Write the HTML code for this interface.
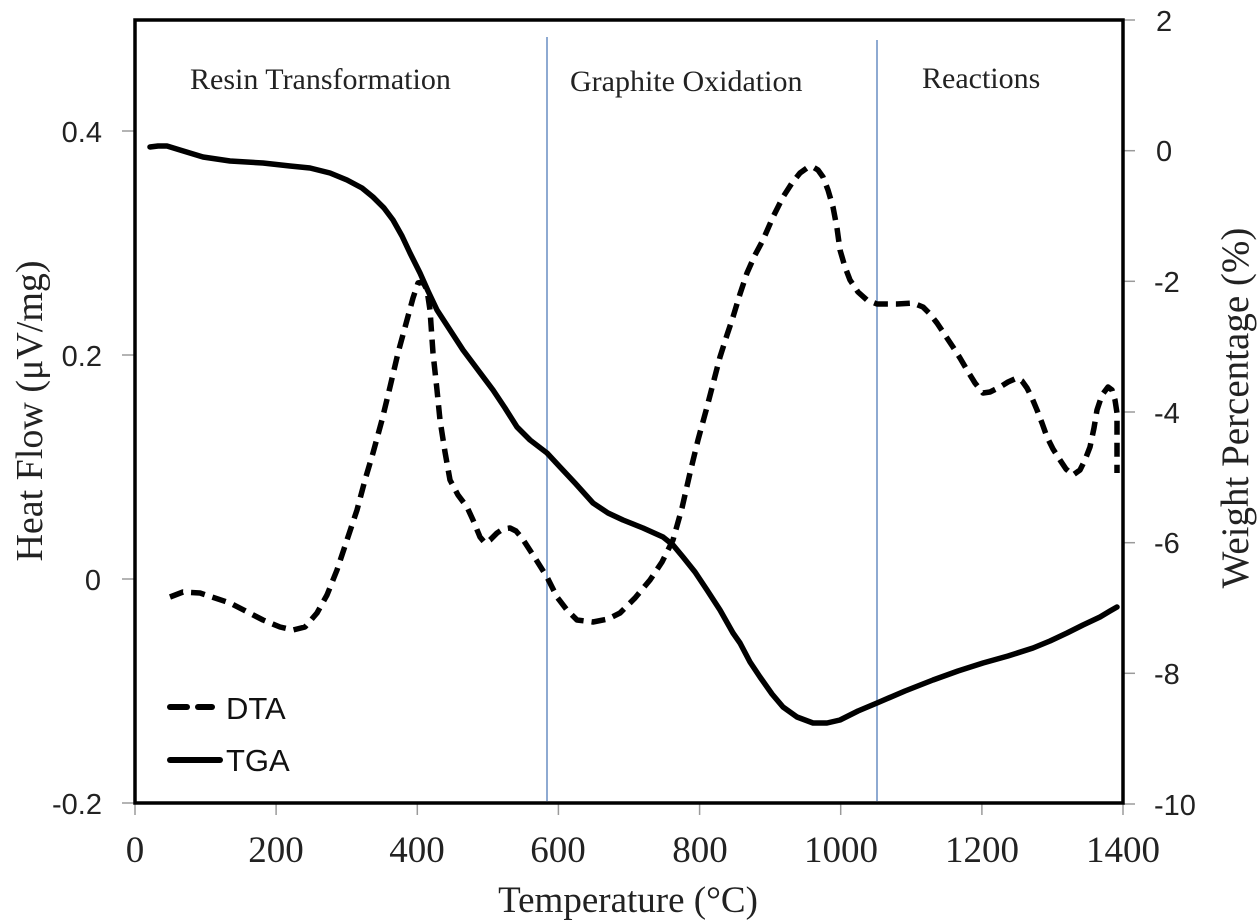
<!DOCTYPE html>
<html>
<head>
<meta charset="utf-8">
<style>
  html,body{margin:0;padding:0;background:#fff;}
  svg{display:block;}
</style>
</head>
<body>
<svg width="1260" height="923" viewBox="0 0 1260 923" xmlns="http://www.w3.org/2000/svg">
  <rect x="0" y="0" width="1260" height="923" fill="#ffffff"/>

  <!-- region separators -->
  <line x1="547" y1="37" x2="547" y2="801" stroke="#8eaad2" stroke-width="2"/>
  <line x1="877" y1="40" x2="877" y2="801" stroke="#8eaad2" stroke-width="2"/>

  <!-- ticks left -->
  <g stroke="#9a9a9a" stroke-width="1.5">
    <line x1="122" y1="131" x2="135" y2="131"/>
    <line x1="122" y1="355" x2="135" y2="355"/>
    <line x1="122" y1="579" x2="135" y2="579"/>
    <line x1="122" y1="803" x2="135" y2="803"/>
    <!-- right ticks -->
    <line x1="1123" y1="20" x2="1135" y2="20"/>
    <line x1="1123" y1="150.7" x2="1135" y2="150.7"/>
    <line x1="1123" y1="281.3" x2="1135" y2="281.3"/>
    <line x1="1123" y1="412" x2="1135" y2="412"/>
    <line x1="1123" y1="542.7" x2="1135" y2="542.7"/>
    <line x1="1123" y1="673.3" x2="1135" y2="673.3"/>
    <line x1="1123" y1="804" x2="1135" y2="804"/>
    <!-- bottom ticks -->
    <line x1="135" y1="803" x2="135" y2="815"/>
    <line x1="276.1" y1="803" x2="276.1" y2="815"/>
    <line x1="417.3" y1="803" x2="417.3" y2="815"/>
    <line x1="558.4" y1="803" x2="558.4" y2="815"/>
    <line x1="699.6" y1="803" x2="699.6" y2="815"/>
    <line x1="840.7" y1="803" x2="840.7" y2="815"/>
    <line x1="981.9" y1="803" x2="981.9" y2="815"/>
    <line x1="1123" y1="803" x2="1123" y2="815"/>
  </g>

  <!-- TGA -->
  <polyline fill="none" stroke="#000" stroke-width="5.5" stroke-linejoin="round" stroke-linecap="round"
    points="150,147 158,146 167,146 180,150 203,157 230,161 263,163 290,166 310,168 330,173 347,180 362,188 373,197 384,208 393,220 402,236 410,253 420,273 428,291 437,310 450,330 463,350 478,370 493,390 505,408 517,427 530,440 547,453 560,467 575,483 593,503 608,513 623,520 643,528 663,537 673,545 683,557 695,572 707,590 720,610 733,633 740,643 750,662 760,677 772,694 783,707 797,717 813,723 827,723 840,720 858,711 877,703 905,691 933,680 958,671 983,663 1008,656 1033,648 1050,641 1067,633 1083,625 1100,617 1110,611 1117,607"/>

  <!-- DTA -->
  <polyline fill="none" stroke="#000" stroke-width="5.5" stroke-linejoin="round" stroke-dasharray="14 8"
    points="170,597 183,592 200,593 230,603 263,620 280,627 293,630 305,627 317,613 327,595 337,570 347,540 357,510 365,480 373,453 382,420 390,387 398,353 407,320 413,298 418,283 423,282 427,290 430,310 433,353 437,390 440,420 445,452 450,480 458,495 467,507 473,520 480,537 485,543 490,540 497,533 503,529 510,528 516,531 522,538 535,558 547,577 557,597 567,610 577,620 593,622 608,619 620,613 635,598 650,580 662,562 673,540 682,508 690,473 698,440 707,407 714,380 720,357 727,335 733,317 740,294 747,273 755,255 763,240 773,217 783,197 792,183 800,173 807,168 813,167 818,170 823,177 828,190 833,207 837,228 840,250 845,267 850,280 858,292 867,300 877,304 885,304 897,304 913,303 923,307 930,314 937,323 945,335 953,347 960,358 967,370 975,383 983,393 990,392 1000,387 1008,382 1017,378 1022,381 1027,388 1032,398 1037,410 1042,423 1047,437 1053,449 1060,460 1066,469 1073,475 1080,470 1085,460 1090,447 1094,428 1097,410 1102,395 1108,387 1112,390 1115,400 1117,413 1117,473"/>

  <!-- frame -->
  <rect x="135" y="20" width="988" height="783" fill="none" stroke="#000" stroke-width="3.5"/>

  <!-- region labels -->
  <g font-family="'Liberation Serif', serif" font-size="30" fill="#222">
    <text x="190" y="89">Resin Transformation</text>
    <text x="570" y="91">Graphite Oxidation</text>
    <text x="922" y="88">Reactions</text>
  </g>

  <!-- left tick labels -->
  <g font-family="'Liberation Sans', sans-serif" font-size="29" fill="#222" text-anchor="end">
    <text x="102" y="142">0.4</text>
    <text x="102" y="366">0.2</text>
    <text x="101" y="590">0</text>
    <text x="102" y="814">-0.2</text>
  </g>

  <!-- right tick labels -->
  <g font-family="'Liberation Sans', sans-serif" font-size="29" fill="#222" text-anchor="start">
    <text x="1156" y="31">2</text>
    <text x="1156" y="161">0</text>
    <text x="1154" y="292">-2</text>
    <text x="1154" y="423">-4</text>
    <text x="1154" y="553">-6</text>
    <text x="1154" y="684">-8</text>
    <text x="1154" y="815">-10</text>
  </g>

  <!-- bottom tick labels -->
  <g font-family="'Liberation Serif', serif" font-size="37" fill="#222" text-anchor="middle">
    <text x="135" y="862">0</text>
    <text x="276" y="862">200</text>
    <text x="417" y="862">400</text>
    <text x="558" y="862">600</text>
    <text x="700" y="862">800</text>
    <text x="841" y="862">1000</text>
    <text x="982" y="862">1200</text>
    <text x="1123" y="862">1400</text>
  </g>

  <!-- axis titles -->
  <text x="628" y="912" font-family="'Liberation Serif', serif" font-size="37" fill="#222" text-anchor="middle">Temperature (°C)</text>
  <text transform="translate(42,411) rotate(-90)" font-family="'Liberation Serif', serif" font-size="38" fill="#222" text-anchor="middle">Heat Flow (μV/mg)</text>
  <text transform="translate(1248,408) rotate(-90)" font-family="'Liberation Serif', serif" font-size="39" fill="#222" text-anchor="middle">Weight Percentage (%)</text>

  <!-- legend -->
  <line x1="170" y1="707" x2="187" y2="707" stroke="#000" stroke-width="6" stroke-linecap="round"/>
  <line x1="198" y1="707" x2="212" y2="707" stroke="#000" stroke-width="6" stroke-linecap="round"/>
  <text x="226" y="719" font-family="'Liberation Sans', sans-serif" font-size="31" fill="#111">DTA</text>
  <line x1="170" y1="760" x2="220" y2="760" stroke="#000" stroke-width="6" stroke-linecap="round"/>
  <text x="226" y="771" font-family="'Liberation Sans', sans-serif" font-size="31" fill="#111">TGA</text>
</svg>
</body>
</html>
